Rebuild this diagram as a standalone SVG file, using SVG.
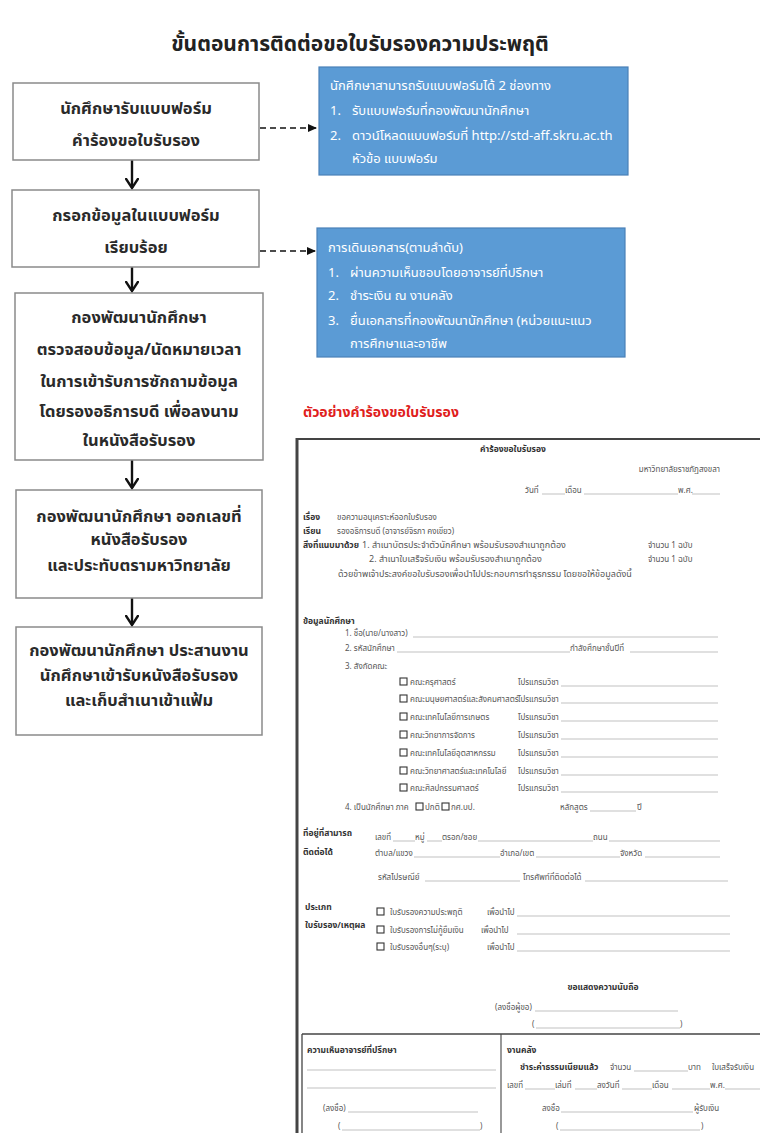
<svg xmlns="http://www.w3.org/2000/svg" width="760" height="1133" viewBox="0 0 760 1133">
<style>
.t{font-family:"Noto Sans Thai","Noto Sans","DejaVu Sans",sans-serif}
.title{font-size:21px;font-weight:bold;fill:#222;text-anchor:middle}
.box{fill:#fff;stroke:#8a8a8a;stroke-width:1.5}
.bt{font-size:16.5px;font-weight:bold;fill:#2a2a2a;text-anchor:middle}
.blue{fill:#5b9bd5;stroke:#4a80b8;stroke-width:1.2}
.wt{font-size:13px;fill:#fff}
.red{font-size:14px;font-weight:bold;fill:#e0201c}
.f{font-size:8px;fill:#555}
.f9{font-size:9px;fill:#555}
.fb{font-size:8.5px;fill:#333;font-weight:bold}
.ul{stroke:#999;stroke-width:0.6}
.cb{fill:#fff;stroke:#333;stroke-width:1.1}
.frame{stroke:#444;fill:none}
.dn{stroke:#111;stroke-width:2.4;fill:none}
.dash{stroke:#111;stroke-width:1.3;stroke-dasharray:6,4}
</style>
<defs>
<marker id="vh" markerWidth="12" markerHeight="14" refX="10" refY="7" orient="auto" markerUnits="userSpaceOnUse" viewBox="0 0 12 14">
<path d="M0,0.5 L10,7 L0,13.5" fill="none" stroke="#111" stroke-width="2.4"/>
</marker>
<marker id="ah" markerWidth="9" markerHeight="8" refX="8" refY="4" orient="auto" markerUnits="userSpaceOnUse" viewBox="0 0 9 8">
<path d="M0,0 L9,4 L0,8 Z" fill="#111"/>
</marker>
</defs>
<rect width="760" height="1133" fill="#fff"/>
<text class="t title" x="360" y="51">ขั้นตอนการติดต่อขอใบรับรองความประพฤติ</text>

<g id="connectors">
<line class="dn" x1="132" y1="160" x2="132" y2="188" marker-end="url(#vh)"/>
<line class="dn" x1="132" y1="267" x2="132" y2="291" marker-end="url(#vh)"/>
<line class="dn" x1="132" y1="460" x2="132" y2="488" marker-end="url(#vh)"/>
<line class="dn" x1="132" y1="598" x2="132" y2="625" marker-end="url(#vh)"/>
<line class="dash" x1="260" y1="128" x2="316" y2="128" marker-end="url(#ah)"/>
<line class="dash" x1="260" y1="251" x2="315" y2="251" marker-end="url(#ah)"/>
</g>

<g id="step1">
<rect class="box" x="13" y="83" width="246" height="77"/>
<text class="t bt" x="136" y="114">นักศึกษารับแบบฟอร์ม</text>
<text class="t bt" x="136" y="146">คำร้องขอใบรับรอง</text>
</g>
<g id="step2">
<rect class="box" x="12" y="190" width="247" height="77"/>
<text class="t bt" x="136" y="221">กรอกข้อมูลในแบบฟอร์ม</text>
<text class="t bt" x="136" y="253">เรียบร้อย</text>
</g>
<g id="step3">
<rect class="box" x="15" y="293" width="248" height="167"/>
<text class="t bt" x="139" y="323">กองพัฒนานักศึกษา</text>
<text class="t bt" x="139" y="355">ตรวจสอบข้อมูล/นัดหมายเวลา</text>
<text class="t bt" x="139" y="387">ในการเข้ารับการซักถามข้อมูล</text>
<text class="t bt" x="139" y="417">โดยรองอธิการบดี เพื่อลงนาม</text>
<text class="t bt" x="139" y="446">ในหนังสือรับรอง</text>
</g>
<g id="step4">
<rect class="box" x="16" y="490" width="246" height="108"/>
<text class="t bt" x="139" y="522">กองพัฒนานักศึกษา ออกเลขที่</text>
<text class="t bt" x="139" y="545">หนังสือรับรอง</text>
<text class="t bt" x="139" y="571">และประทับตรามหาวิทยาลัย</text>
</g>
<g id="step5">
<rect class="box" x="16" y="627" width="246" height="108"/>
<text class="t bt" x="139" y="656">กองพัฒนานักศึกษา ประสานงาน</text>
<text class="t bt" x="139" y="681">นักศึกษาเข้ารับหนังสือรับรอง</text>
<text class="t bt" x="139" y="706">และเก็บสำเนาเข้าแฟ้ม</text>
</g>

<g id="note1">
<rect class="blue" x="319" y="67" width="309" height="108"/>
<text class="t wt" x="330" y="90">นักศึกษาสามารถรับแบบฟอร์มได้ 2 ช่องทาง</text>
<text class="t wt" x="330" y="115">1.</text><text class="t wt" x="352" y="115">รับแบบฟอร์มที่กองพัฒนานักศึกษา</text>
<text class="t wt" x="330" y="140">2.</text><text class="t wt" x="352" y="140">ดาวน์โหลดแบบฟอร์มที่ http://std-aff.skru.ac.th</text>
<text class="t wt" x="352" y="163">หัวข้อ แบบฟอร์ม</text>
</g>
<g id="note2">
<rect class="blue" x="317" y="228" width="308" height="129"/>
<text class="t wt" x="328" y="252">การเดินเอกสาร(ตามลำดับ)</text>
<text class="t wt" x="328" y="277">1.</text><text class="t wt" x="350" y="277">ผ่านความเห็นชอบโดยอาจารย์ที่ปรึกษา</text>
<text class="t wt" x="328" y="300">2.</text><text class="t wt" x="350" y="300">ชำระเงิน ณ งานคลัง</text>
<text class="t wt" x="328" y="325">3.</text><text class="t wt" x="350" y="325">ยื่นเอกสารที่กองพัฒนานักศึกษา (หน่วยแนะแนว</text>
<text class="t wt" x="350" y="348">การศึกษาและอาชีพ</text>
</g>

<text class="t red" x="303" y="417">ตัวอย่างคำร้องขอใบรับรอง</text>

<g id="form">
<line class="frame" x1="296" y1="439" x2="760" y2="439" stroke-width="2"/>
<line class="frame" x1="297" y1="438" x2="297" y2="1133" stroke-width="3"/>
<text class="t fb" x="513" y="452" text-anchor="middle" font-size="10">คำร้องขอใบรับรอง</text>
<text class="t f" x="720" y="472" text-anchor="end">มหาวิทยาลัยราชภัฏสงขลา</text>
<text class="t f" x="525" y="493">วันที่</text><line class="ul" x1="542" y1="494" x2="565" y2="494"/>
<text class="t f" x="565" y="493">เดือน</text><line class="ul" x1="584" y1="494" x2="678" y2="494"/>
<text class="t f" x="678" y="493">พ.ศ.</text><line class="ul" x1="692" y1="494" x2="720" y2="494"/>
<text class="t fb" x="303" y="520">เรื่อง</text><text class="t f" x="337" y="520">ขอความอนุเคราะห์ออกใบรับรอง</text>
<text class="t fb" x="303" y="534">เรียน</text><text class="t f" x="337" y="534">รองอธิการบดี (อาจารย์จิรภา คงเขียว)</text>
<text class="t fb" x="303" y="548">สิ่งที่แนบมาด้วย</text><text class="t f9" x="362" y="548">1. สำเนาบัตรประจำตัวนักศึกษา พร้อมรับรองสำเนาถูกต้อง</text>
<text class="t f" x="648" y="548">จำนวน  1  ฉบับ</text>
<text class="t f9" x="369" y="562">2. สำเนาใบเสร็จรับเงิน พร้อมรับรองสำเนาถูกต้อง</text>
<text class="t f" x="648" y="562">จำนวน  1  ฉบับ</text>
<text class="t f9" x="338" y="577">ด้วยข้าพเจ้าประสงค์ขอใบรับรองเพื่อนำไปประกอบการทำธุรกรรม  โดยขอให้ข้อมูลดังนี้</text>

<text class="t fb" x="303" y="624" font-size="8">ข้อมูลนักศึกษา</text>
<text class="t f" x="345" y="636">1. ชื่อ(นาย/นางสาว)</text><line class="ul" x1="413" y1="637" x2="718" y2="637"/>
<text class="t f" x="345" y="651">2. รหัสนักศึกษา</text><line class="ul" x1="397" y1="652" x2="570" y2="652"/>
<text class="t f" x="570" y="651">กำลังศึกษาชั้นปีที่</text><line class="ul" x1="630" y1="652" x2="718" y2="652"/>
<text class="t f" x="345" y="669">3. สังกัดคณะ</text>
<g>
<rect class="cb" x="400" y="678" width="7" height="7"/><text class="t f" x="410" y="685">คณะครุศาสตร์</text>
<rect class="cb" x="400" y="695" width="7" height="7"/><text class="t f" x="410" y="702">คณะมนุษยศาสตร์และสังคมศาสตร์</text>
<rect class="cb" x="400" y="713" width="7" height="7"/><text class="t f" x="410" y="720">คณะเทคโนโลยีการเกษตร</text>
<rect class="cb" x="400" y="731" width="7" height="7"/><text class="t f" x="410" y="738">คณะวิทยาการจัดการ</text>
<rect class="cb" x="400" y="749" width="7" height="7"/><text class="t f" x="410" y="756">คณะเทคโนโลยีอุตสาหกรรม</text>
<rect class="cb" x="400" y="767" width="7" height="7"/><text class="t f" x="410" y="774">คณะวิทยาศาสตร์และเทคโนโลยี</text>
<rect class="cb" x="400" y="784" width="7" height="7"/><text class="t f" x="410" y="791">คณะศิลปกรรมศาสตร์</text>
</g>
<g>
<text class="t f" x="518" y="685">โปรแกรมวิชา</text><line class="ul" x1="561" y1="686" x2="718" y2="686"/>
<text class="t f" x="518" y="702">โปรแกรมวิชา</text><line class="ul" x1="561" y1="703" x2="718" y2="703"/>
<text class="t f" x="518" y="720">โปรแกรมวิชา</text><line class="ul" x1="561" y1="721" x2="718" y2="721"/>
<text class="t f" x="518" y="738">โปรแกรมวิชา</text><line class="ul" x1="561" y1="739" x2="718" y2="739"/>
<text class="t f" x="518" y="756">โปรแกรมวิชา</text><line class="ul" x1="561" y1="757" x2="718" y2="757"/>
<text class="t f" x="518" y="774">โปรแกรมวิชา</text><line class="ul" x1="561" y1="775" x2="718" y2="775"/>
<text class="t f" x="518" y="791">โปรแกรมวิชา</text><line class="ul" x1="561" y1="792" x2="718" y2="792"/>
</g>
<text class="t f" x="345" y="810">4. เป็นนักศึกษา ภาค</text>
<rect class="cb" x="416" y="803" width="7" height="7"/><text class="t f" x="425" y="810">ปกติ</text>
<rect class="cb" x="442" y="803" width="7" height="7"/><text class="t f" x="451" y="810">กศ.บป.</text>
<text class="t f" x="560" y="810">หลักสูตร</text><line class="ul" x1="590" y1="811" x2="636" y2="811"/><text class="t f" x="637" y="810">ปี</text>

<text class="t fb" x="303" y="836">ที่อยู่ที่สามารถ</text>
<text class="t fb" x="303" y="855">ติดต่อได้</text>
<text class="t f" x="375" y="840">เลขที่</text><line class="ul" x1="393" y1="841" x2="415" y2="841"/>
<text class="t f" x="415" y="840">หมู่</text><line class="ul" x1="427" y1="841" x2="442" y2="841"/>
<text class="t f" x="442" y="840">ตรอก/ซอย</text><line class="ul" x1="478" y1="841" x2="593" y2="841"/>
<text class="t f" x="593" y="840">ถนน</text><line class="ul" x1="609" y1="841" x2="720" y2="841"/>
<text class="t f" x="375" y="856">ตำบล/แขวง</text><line class="ul" x1="414" y1="857" x2="500" y2="857"/>
<text class="t f" x="500" y="856">อำเภอ/เขต</text><line class="ul" x1="536" y1="857" x2="620" y2="857"/>
<text class="t f" x="620" y="856">จังหวัด</text><line class="ul" x1="645" y1="857" x2="720" y2="857"/>
<text class="t f" x="378" y="880">รหัสไปรษณีย์</text><line class="ul" x1="425" y1="881" x2="520" y2="881"/>
<text class="t f" x="523" y="880">โทรศัพท์ที่ติดต่อได้</text><line class="ul" x1="585" y1="881" x2="728" y2="881"/>

<text class="t fb" x="305" y="910">ประเภท</text>
<text class="t fb" x="305" y="928">ใบรับรอง/เหตุผล</text>
<rect class="cb" x="377" y="908" width="7" height="7"/><text class="t f" x="390" y="915">ใบรับรองความประพฤติ</text>
<text class="t f" x="487" y="915">เพื่อนำไป</text><line class="ul" x1="517" y1="916" x2="730" y2="916"/>
<rect class="cb" x="377" y="926" width="7" height="7"/><text class="t f" x="390" y="933">ใบรับรองการไม่กู้ยืมเงิน</text>
<text class="t f" x="481" y="933">เพื่อนำไป</text><line class="ul" x1="517" y1="934" x2="730" y2="934"/>
<rect class="cb" x="377" y="943" width="7" height="7"/><text class="t f" x="390" y="950">ใบรับรองอื่นๆ(ระบุ)</text>
<text class="t f" x="487" y="950">เพื่อนำไป</text><line class="ul" x1="517" y1="951" x2="730" y2="951"/>

<text class="t fb" x="603" y="990" text-anchor="middle">ขอแสดงความนับถือ</text>
<text class="t f" x="495" y="1010">(ลงชื่อผู้ขอ)</text><line class="ul" x1="535" y1="1011" x2="678" y2="1011"/>
<text class="t f" x="532" y="1027">(</text><line class="ul" x1="536" y1="1028" x2="680" y2="1028"/><text class="t f" x="680" y="1027">)</text>

<line class="frame" x1="302" y1="1034" x2="760" y2="1034" stroke-width="1.3"/>
<line class="frame" x1="302" y1="1034" x2="302" y2="1133" stroke-width="1.3"/>
<line class="frame" x1="501" y1="1034" x2="501" y2="1133" stroke-width="1.1"/>
<text class="t fb" x="307" y="1053">ความเห็นอาจารย์ที่ปรึกษา</text>
<line class="ul" x1="307" y1="1070" x2="496" y2="1070"/>
<line class="ul" x1="307" y1="1088" x2="496" y2="1088"/>
<text class="t f" x="323" y="1111">(ลงชื่อ)</text><line class="ul" x1="348" y1="1112" x2="478" y2="1112"/>
<text class="t f" x="338" y="1129">(</text><line class="ul" x1="342" y1="1130" x2="480" y2="1130"/><text class="t f" x="480" y="1129">)</text>
<text class="t fb" x="507" y="1053">งานคลัง</text>
<text class="t fb" x="520" y="1070">ชำระค่าธรรมเนียมแล้ว</text>
<text class="t f" x="610" y="1070">จำนวน</text><line class="ul" x1="634" y1="1071" x2="688" y2="1071"/>
<text class="t f" x="688" y="1070">บาท</text><text class="t f" x="712" y="1070">ใบเสร็จรับเงิน</text>
<text class="t f" x="507" y="1088">เลขที่</text><line class="ul" x1="525" y1="1089" x2="555" y2="1089"/>
<text class="t f" x="555" y="1088">เล่มที่</text><line class="ul" x1="575" y1="1089" x2="597" y2="1089"/>
<text class="t f" x="597" y="1088">ลงวันที่</text><line class="ul" x1="622" y1="1089" x2="652" y2="1089"/>
<text class="t f" x="652" y="1088">เดือน</text><line class="ul" x1="672" y1="1089" x2="710" y2="1089"/>
<text class="t f" x="710" y="1088">พ.ศ.</text><line class="ul" x1="725" y1="1089" x2="760" y2="1089"/>
<text class="t f" x="542" y="1111">ลงชื่อ</text><line class="ul" x1="561" y1="1112" x2="693" y2="1112"/>
<text class="t f" x="694" y="1111">ผู้รับเงิน</text>
<text class="t f" x="556" y="1129">(</text><line class="ul" x1="560" y1="1130" x2="700" y2="1130"/><text class="t f" x="701" y="1129">)</text>
</g>
</svg>
